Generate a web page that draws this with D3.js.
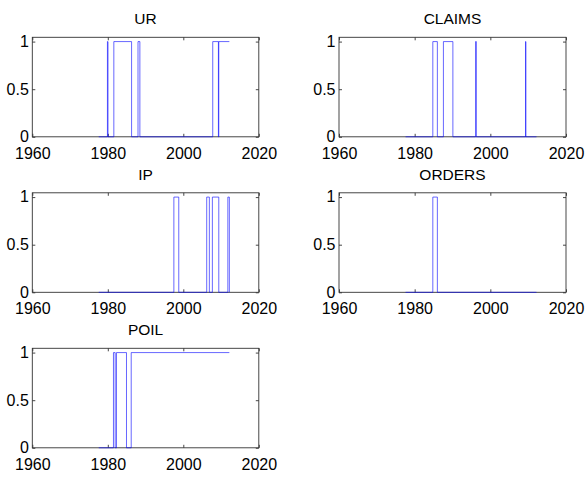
<!DOCTYPE html>
<html>
<head>
<meta charset="utf-8">
<script src="https://cdn.jsdelivr.net/npm/d3@7"></script>
<style>
  html, body { margin: 0; padding: 0; background: #fff; }
  svg { display: block; }
  text { font-family: "Liberation Sans", Arial, Helvetica, sans-serif; fill: #000; }
</style>
</head>
<body>
<svg id="chart" width="586" height="483"></svg>
<script>
// ---- data: regime indicator change points (time, value), step-after ----
const titles = ["UR", "CLAIMS", "IP", "ORDERS", "POIL"];
const urT = [1977.6, 1979.9, 1980.05, 1981.6, 1986.3, 1988.0, 1988.5, 2007.8, 2009.3, 2009.4, 2012.2];
const urV = [0, 1, 0, 1, 0, 1, 0, 1, 0, 1, 1];
const claimsT = [1977.6, 1984.8, 1986.0, 1987.6, 1990.1, 1996.1, 1996.3, 2009.3, 2009.4, 2012.2];
const claimsV = [0, 1, 0, 1, 0, 1, 0, 1, 0, 0];
const ipT = [1977.6, 1997.5, 1998.8, 2006.2, 2006.9, 2007.7, 2009.4, 2011.8, 2012.2];
const ipV = [0, 1, 0, 1, 0, 1, 0, 1, 0];
const ordersT = [1977.6, 1984.8, 1986.0, 2012.2];
const ordersV = [0, 1, 0, 0];
const poilT = [1977.6, 1981.5, 1981.95, 1982.3, 1984.95, 1986.2, 2012.2];
const poilV = [0, 1, 0, 1, 0, 1, 1];
const xTicks = [1960, 1980, 2000, 2020];
const yTicks = [0, 0.5, 1];
const yTickLabels = ["0", "0.5", "1"];

const seriesT = [urT, claimsT, ipT, ordersT, poilT];
const seriesV = [urV, claimsV, ipV, ordersV, poilV];

// ---- layout ----
const colX = [32.3, 339];
const colW = [226.5, 227];
const rowY = [37.3, 192.8, 348.3];
const panelH = 99.5;

const svg = d3.select("#chart");

titles.forEach((title, i) => {
  const c = i % 2, r = Math.floor(i / 2);
  const x0 = colX[c], y0 = rowY[r], w = colW[c], h = panelH;
  const g = svg.append("g").attr("transform", `translate(${x0},${y0})`);

  const x = d3.scaleLinear().domain([1960, 2020]).range([0, w]);
  const y = d3.scaleLinear().domain([0, 1.045]).range([h, 0]);

  // box
  g.append("rect").attr("x", 0).attr("y", 0).attr("width", w).attr("height", h)
    .attr("fill", "none").attr("stroke", "#333").attr("stroke-width", 0.9);

  const fmt = (d) => yTickLabels[yTicks.indexOf(d)];

  const bx = g.append("g").attr("transform", `translate(0,${h})`)
    .call(d3.axisBottom(x).tickValues(xTicks).tickFormat(d3.format("d")).tickSize(-3).tickPadding(10.5));
  const tx = g.append("g")
    .call(d3.axisTop(x).tickValues(xTicks).tickFormat("").tickSize(-3));
  const ly = g.append("g")
    .call(d3.axisLeft(y).tickValues(yTicks).tickFormat(fmt).tickSize(-3).tickPadding(3.5));
  const ry = g.append("g").attr("transform", `translate(${w},0)`)
    .call(d3.axisRight(y).tickValues(yTicks).tickFormat("").tickSize(-3));

  [bx, tx, ly, ry].forEach(a => {
    a.select(".domain").remove();
    a.selectAll(".tick line").attr("stroke", "#333").attr("stroke-width", 0.9);
    a.selectAll("text").style("font-size", "16px").attr("fill", "#000");
  });
  ly.selectAll("text").attr("dy", "0.3em");

  // title
  g.append("text").attr("x", w / 2).attr("y", -13.3)
    .attr("text-anchor", "middle").style("font-size", "15.5px").text(title);

  // series
  const pts = seriesT[i].map((t, k) => [t, seriesV[i][k]]);
  const line = d3.line().x(d => x(d[0])).y(d => y(d[1])).curve(d3.curveStepAfter);
  g.append("path").datum(pts).attr("d", line)
    .attr("fill", "none").attr("stroke", "#0000ff").attr("stroke-width", 0.6);
});
</script>
</body>
</html>
